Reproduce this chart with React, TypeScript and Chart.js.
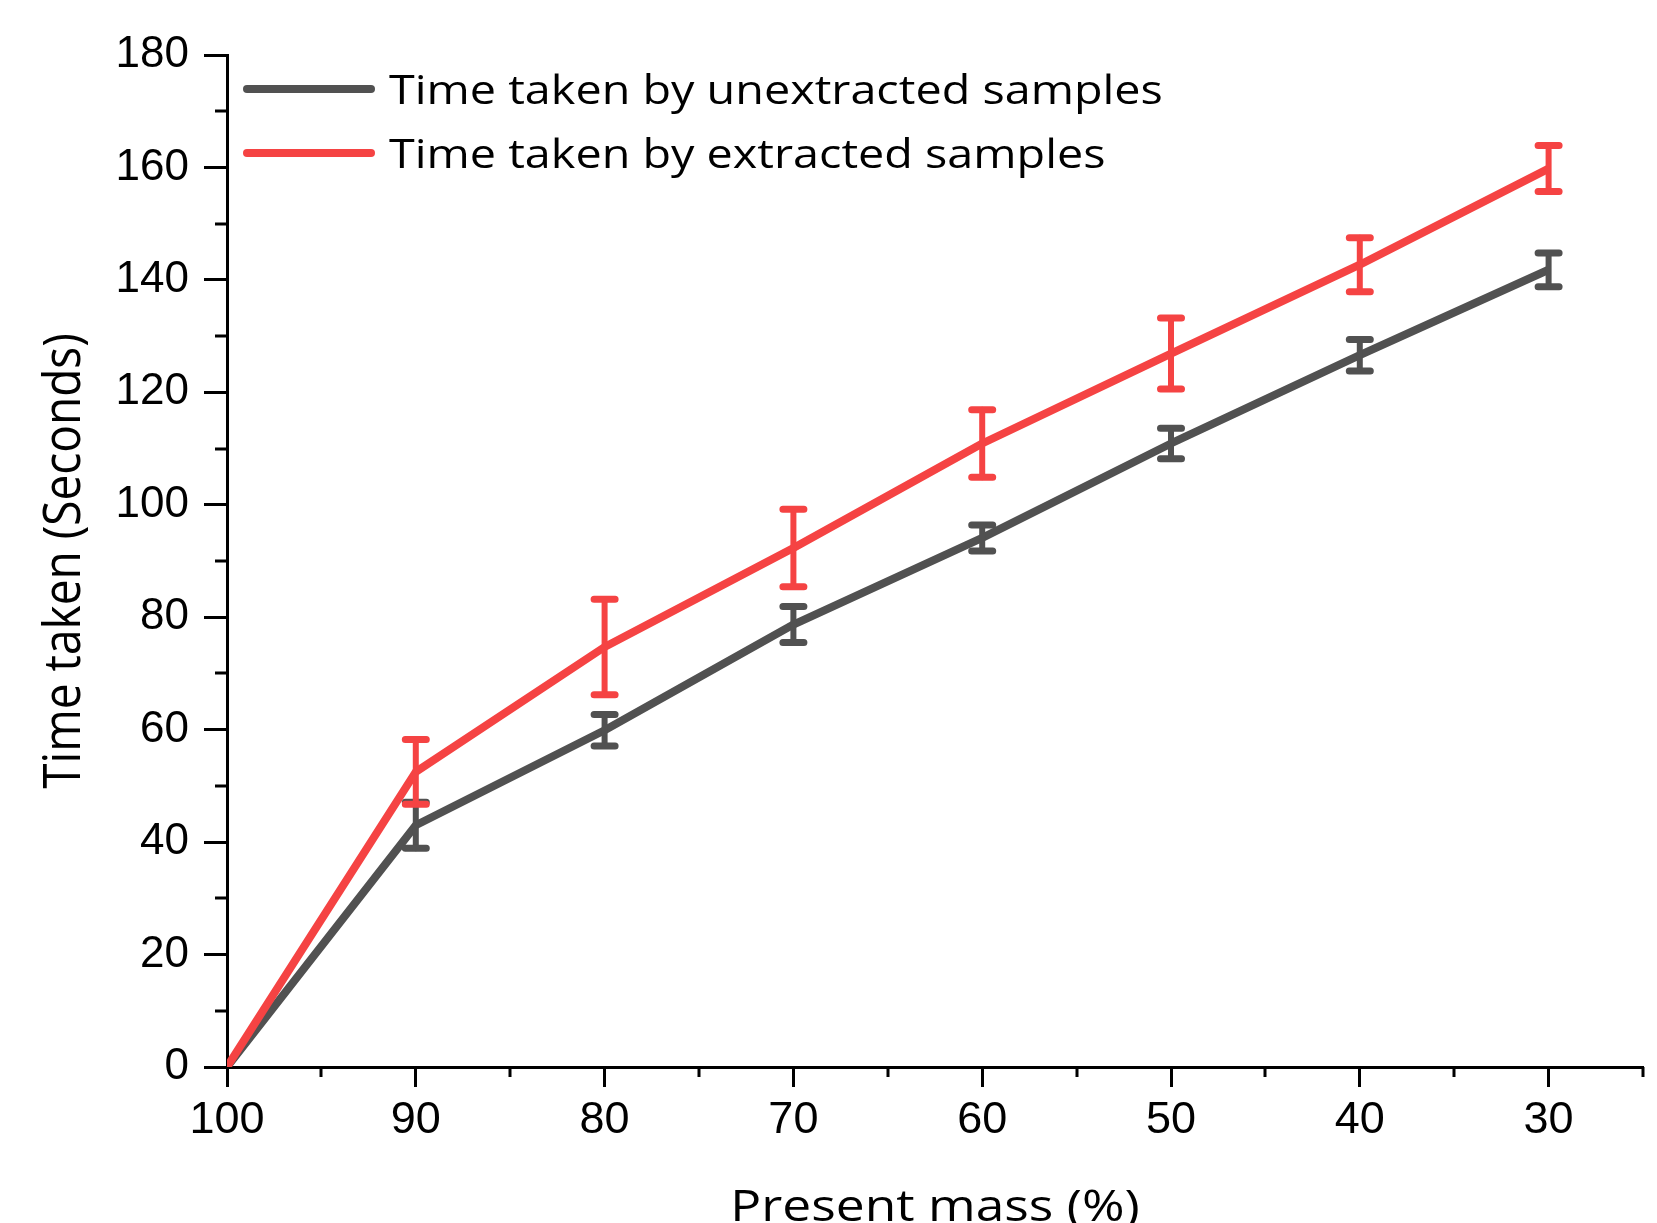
import React, { useEffect, useRef } from 'react';
import { Chart, registerables } from 'chart.js';

Chart.register(...registerables);

// ---- Data ----
const massValues = [100, 90, 80, 70, 60, 50, 40, 30];
const unextractedTime = [0, 43.0, 59.9, 78.7, 94.1, 110.9, 126.6, 141.8];
const unextractedErr = [0, 4.1, 2.8, 3.2, 2.3, 2.7, 2.8, 3.0];
const extractedTime = [0, 52.5, 74.7, 92.3, 110.9, 126.9, 142.7, 159.8];
const extractedErr = [0, 5.75, 8.5, 6.9, 6.0, 6.3, 4.8, 4.1];
const seriesLabels = ['Time taken by unextracted samples', 'Time taken by extracted samples'];
const xTitle = 'Present mass (%)';
const yTitle = 'Time taken (Seconds)';
const xMinorTicks = [95, 85, 75, 65, 55, 45, 35, 25];
const yMinorTicks = [10, 30, 50, 70, 90, 110, 130, 150, 170];

const GREY = '#515151';
const RED = '#F54343';
const errorsByDataset = [unextractedErr, extractedErr];
const colorsByDataset = [GREY, RED];

const decorPlugin = {
  id: 'decor',
  afterDatasetDraw(chart: any, args: any) {
    const idx = args.index;
    const ds = chart.data.datasets[idx];
    const errs = errorsByDataset[idx];
    const xs = chart.scales.x;
    const ys = chart.scales.y;
    const ctx = chart.ctx;
    ctx.save();
    ctx.strokeStyle = colorsByDataset[idx];
    ctx.lineCap = 'round';
    ds.data.forEach((p: any, i: number) => {
      const e = errs[i];
      if (!e) return;
      const px = xs.getPixelForValue(p.x);
      const top = ys.getPixelForValue(p.y + e);
      const bot = ys.getPixelForValue(p.y - e);
      ctx.lineWidth = 6;
      ctx.beginPath();
      ctx.moveTo(px, top);
      ctx.lineTo(px, bot);
      ctx.stroke();
      ctx.lineWidth = 7;
      ctx.beginPath();
      ctx.moveTo(px - 10.5, top);
      ctx.lineTo(px + 10.5, top);
      ctx.moveTo(px - 10.5, bot);
      ctx.lineTo(px + 10.5, bot);
      ctx.stroke();
    });
    ctx.restore();
  },
  afterDraw(chart: any) {
    const ctx = chart.ctx;
    const xs = chart.scales.x;
    const ys = chart.scales.y;
    const area = chart.chartArea;
    ctx.save();
    // minor ticks
    ctx.strokeStyle = '#000';
    ctx.lineWidth = 3;
    ctx.lineCap = 'butt';
    ctx.beginPath();
    xMinorTicks.forEach((v) => {
      const px = Math.round(xs.getPixelForValue(v));
      ctx.moveTo(px, area.bottom);
      ctx.lineTo(px, area.bottom + 10);
    });
    yMinorTicks.forEach((v) => {
      const py = Math.round(ys.getPixelForValue(v));
      ctx.moveTo(area.left, py);
      ctx.lineTo(area.left - 12, py);
    });
    ctx.stroke();

    // legend
    const rows = [area.top + 34, area.top + 98];
    rows.forEach((y, i) => {
      ctx.strokeStyle = colorsByDataset[i];
      ctx.lineWidth = 8;
      ctx.lineCap = 'round';
      ctx.beginPath();
      ctx.moveTo(area.left + 20, y);
      ctx.lineTo(area.left + 144, y);
      ctx.stroke();
      ctx.save();
      ctx.translate(area.left + 162, y + 15);
      ctx.scale(1.14, 1);
      ctx.fillStyle = '#000';
      ctx.font = '41px "Open Sans"';
      ctx.textAlign = 'left';
      ctx.textBaseline = 'alphabetic';
      ctx.fillText(seriesLabels[i], 0, 0);
      ctx.restore();
    });

    // x title
    ctx.save();
    ctx.translate((area.left + area.right) / 2, 1221);
    ctx.scale(1.17, 1);
    ctx.fillStyle = '#000';
    ctx.font = '44px "Open Sans"';
    ctx.textAlign = 'center';
    ctx.textBaseline = 'alphabetic';
    ctx.fillText(xTitle, 0, 0);
    ctx.restore();

    // y title
    ctx.save();
    ctx.translate(66, (area.top + area.bottom) / 2);
    ctx.rotate(-Math.PI / 2);
    ctx.scale(1, 1.1);
    ctx.fillStyle = '#000';
    ctx.font = '46px "Open Sans"';
    ctx.textAlign = 'center';
    ctx.textBaseline = 'middle';
    ctx.fillText(yTitle, 0, 0);
    ctx.restore();

    ctx.restore();
  },
};

export default function App() {
  const canvasRef = useRef<HTMLCanvasElement | null>(null);

  useEffect(() => {
    const canvas = canvasRef.current;
    if (!canvas) return;
    const toPoints = (vals: number[]) => massValues.map((x, i) => ({ x, y: vals[i] }));
    const chart = new Chart(canvas, {
      type: 'line',
      data: {
        datasets: [
          {
            label: seriesLabels[0],
            data: toPoints(unextractedTime),
            borderColor: GREY,
            backgroundColor: GREY,
            borderWidth: 8,
            pointRadius: 0,
            tension: 0,
            borderJoinStyle: 'round',
            order: 1,
          },
          {
            label: seriesLabels[1],
            data: toPoints(extractedTime),
            borderColor: RED,
            backgroundColor: RED,
            borderWidth: 8,
            pointRadius: 0,
            tension: 0,
            borderJoinStyle: 'round',
            order: 0,
          },
        ],
      },
      options: {
        responsive: false,
        animation: false,
        layout: { padding: { top: 55, right: 14, left: 0, bottom: 0 } },
        plugins: {
          legend: { display: false },
          tooltip: { enabled: false },
          title: { display: false },
        },
        scales: {
          x: {
            type: 'linear',
            reverse: true,
            min: 25,
            max: 100,
            afterFit: (s: any) => {
              s.height = 156;
            },
            ticks: {
              stepSize: 5,
              autoSkip: false,
              maxRotation: 0,
              padding: 7,
              color: '#000',
              font: { family: '"Liberation Sans", Arial, sans-serif', size: 45 },
              callback: (v: any) => (Number(v) % 10 === 0 ? String(v) : ''),
            },
            grid: {
              display: true,
              drawOnChartArea: false,
              drawTicks: true,
              tickLength: 20,
              tickWidth: 3,
              tickColor: (c: any) => (c.tick && c.tick.value % 10 === 0 ? '#000' : 'rgba(0,0,0,0)'),
            },
            border: { display: true, color: '#000', width: 3 },
          },
          y: {
            type: 'linear',
            min: 0,
            max: 180,
            afterFit: (s: any) => {
              s.width = 227;
            },
            ticks: {
              stepSize: 10,
              autoSkip: false,
              padding: 15,
              color: '#000',
              font: { family: '"Liberation Sans", Arial, sans-serif', size: 44 },
              callback: (v: any) => (Number(v) % 20 === 0 ? String(v) : ''),
            },
            grid: {
              display: true,
              drawOnChartArea: false,
              drawTicks: true,
              tickLength: 23,
              tickWidth: 3,
              tickColor: (c: any) => (c.tick && c.tick.value % 20 === 0 ? '#000' : 'rgba(0,0,0,0)'),
            },
            border: { display: true, color: '#000', width: 3 },
          },
        },
      } as any,
      plugins: [decorPlugin],
    });
    const fonts: any = (document as any).fonts;
    if (fonts && fonts.load) {
      Promise.all([
        fonts.load('41px "Open Sans"'),
        fonts.load('44px "Liberation Sans"'),
      ]).then(() => {
        try { chart.update(); } catch (e) {}
      }).catch(() => {});
    }
    return () => {
      chart.destroy();
    };
  }, []);

  return (
    <div style={{ position: 'fixed', left: 0, top: 0, width: 1657, height: 1223, background: '#fff' }}>
      <canvas ref={canvasRef} width={1657} height={1223} style={{ display: 'block' }} />
    </div>
  );
}
